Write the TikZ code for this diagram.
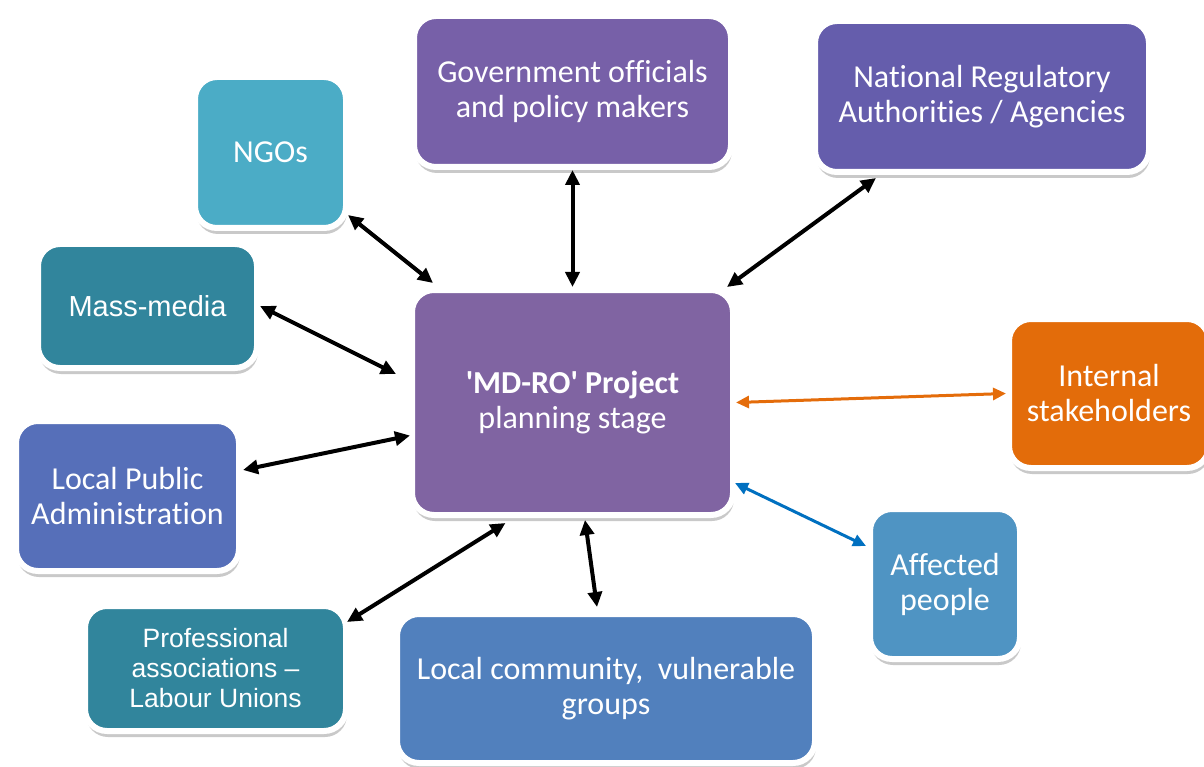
\documentclass[tikz,border=0pt]{standalone}
\usepackage{fontspec}
\setmainfont{Carlito}[Ligatures={TeX,NoCommon}]
\newfontfamily\arialfont{Liberation Sans}[Ligatures=TeX]
\usetikzlibrary{arrows.meta,calc,shadows}
\definecolor{GovClr}{HTML}{7760A8}
\definecolor{NatClr}{HTML}{655DAC}
\definecolor{NgoClr}{HTML}{4BACC6}
\definecolor{TealClr}{HTML}{31859C}
\definecolor{ProjClr}{HTML}{8064A2}
\definecolor{IntClr}{HTML}{E36C0A}
\definecolor{LpaClr}{HTML}{566FB9}
\definecolor{AffClr}{HTML}{4F94C3}
\definecolor{CommClr}{HTML}{5180BD}
\definecolor{OrangeLink}{HTML}{E46C0A}
\definecolor{BlueLink}{HTML}{0070C0}

\begin{document}
\begin{tikzpicture}[x=1pt,y=-1pt,
  box/.style={draw=white,line width=6pt,rounded corners=22pt,inner sep=0pt,
    align=center,text=white,font=\fontsize{32}{35}\selectfont,
    drop shadow={shadow xshift=1pt,shadow yshift=-6pt,opacity=.3,fill=black!70}},
  link/.style={{Triangle[length=15pt,width=14pt]}-{Triangle[length=15pt,width=14pt]},line width=4pt},
  thinlink/.style={{Triangle[length=13pt,width=12pt]}-{Triangle[length=13pt,width=12pt]},line width=3pt}]
\useasboundingbox (0,0) rectangle (1204,767);

\node[box,fill=NgoClr,minimum width=151pt,minimum height=151pt] (ngo) at (270.5,152.5) {NGOs};
\node[box,fill=GovClr,minimum width=317pt,minimum height=151pt] (gov) at (572.5,91.5) {Government officials\\and policy makers};
\node[box,fill=NatClr,minimum width=334pt,minimum height=151pt] (nat) at (982,96.5) {National Regulatory\\Authorities / Agencies};
\node[box,fill=TealClr,minimum width=219pt,minimum height=124pt,
  font=\arialfont\fontsize{29}{34}\selectfont] (mass) at (147.5,306) {Mass-media};
\node[box,fill=ProjClr,minimum width=321pt,minimum height=225pt] (proj) at (572.5,402.5)
  {{\bfseries \textquotesingle MD-RO\textquotesingle{} Project}\\planning stage};
\node[box,fill=IntClr,minimum width=200pt,minimum height=149pt] (int) at (1109,393.5) {Internal\\stakeholders};
\node[box,fill=LpaClr,minimum width=223pt,minimum height=150pt] (lpa) at (127.5,496) {Local Public\\Administration};
\node[box,fill=AffClr,minimum width=150pt,minimum height=150pt] (aff) at (945,584) {Affected\\people};
\node[box,fill=TealClr,minimum width=261pt,minimum height=125pt,
  font=\arialfont\fontsize{26.5}{30}\selectfont] (prof) at (215.5,668.5) {Professional\\associations –\\Labour Unions};
\node[box,fill=CommClr,minimum width=418pt,minimum height=149pt] (comm) at (606,688.5) {Local community,\ \ vulnerable\\groups};

% links to the project
\draw[link] ($(ngo.south east)+(-1,-16)$) -- ($(proj.north west)+(24,-4)$);
\draw[link] (gov.south) -- (proj.north);
\draw[link] ($(nat.south west)+(64,3)$) -- ($(proj.north east)+(-9,0)$);
\draw[link] (mass.east) -- ($(proj.north west)+(-13,87)$);
\draw[link] ($(lpa.east)+(1,-26)$) -- ($(proj.west)+(1,33)$);
\draw[link] ($(prof.north east)+(-2,19)$) -- ($(proj.south)+(-67,5)$);
\draw[link] ($(proj.south)+(12.5,2)$) -- ($(comm.north)+(-9,-4)$);
\draw[thinlink,OrangeLink] (proj.east) -- (int.west);
\draw[thinlink,BlueLink] ($(proj.south east)+(-1,-35)$) -- ($(aff.north west)+(-1,40)$);

\end{tikzpicture}
\end{document}
